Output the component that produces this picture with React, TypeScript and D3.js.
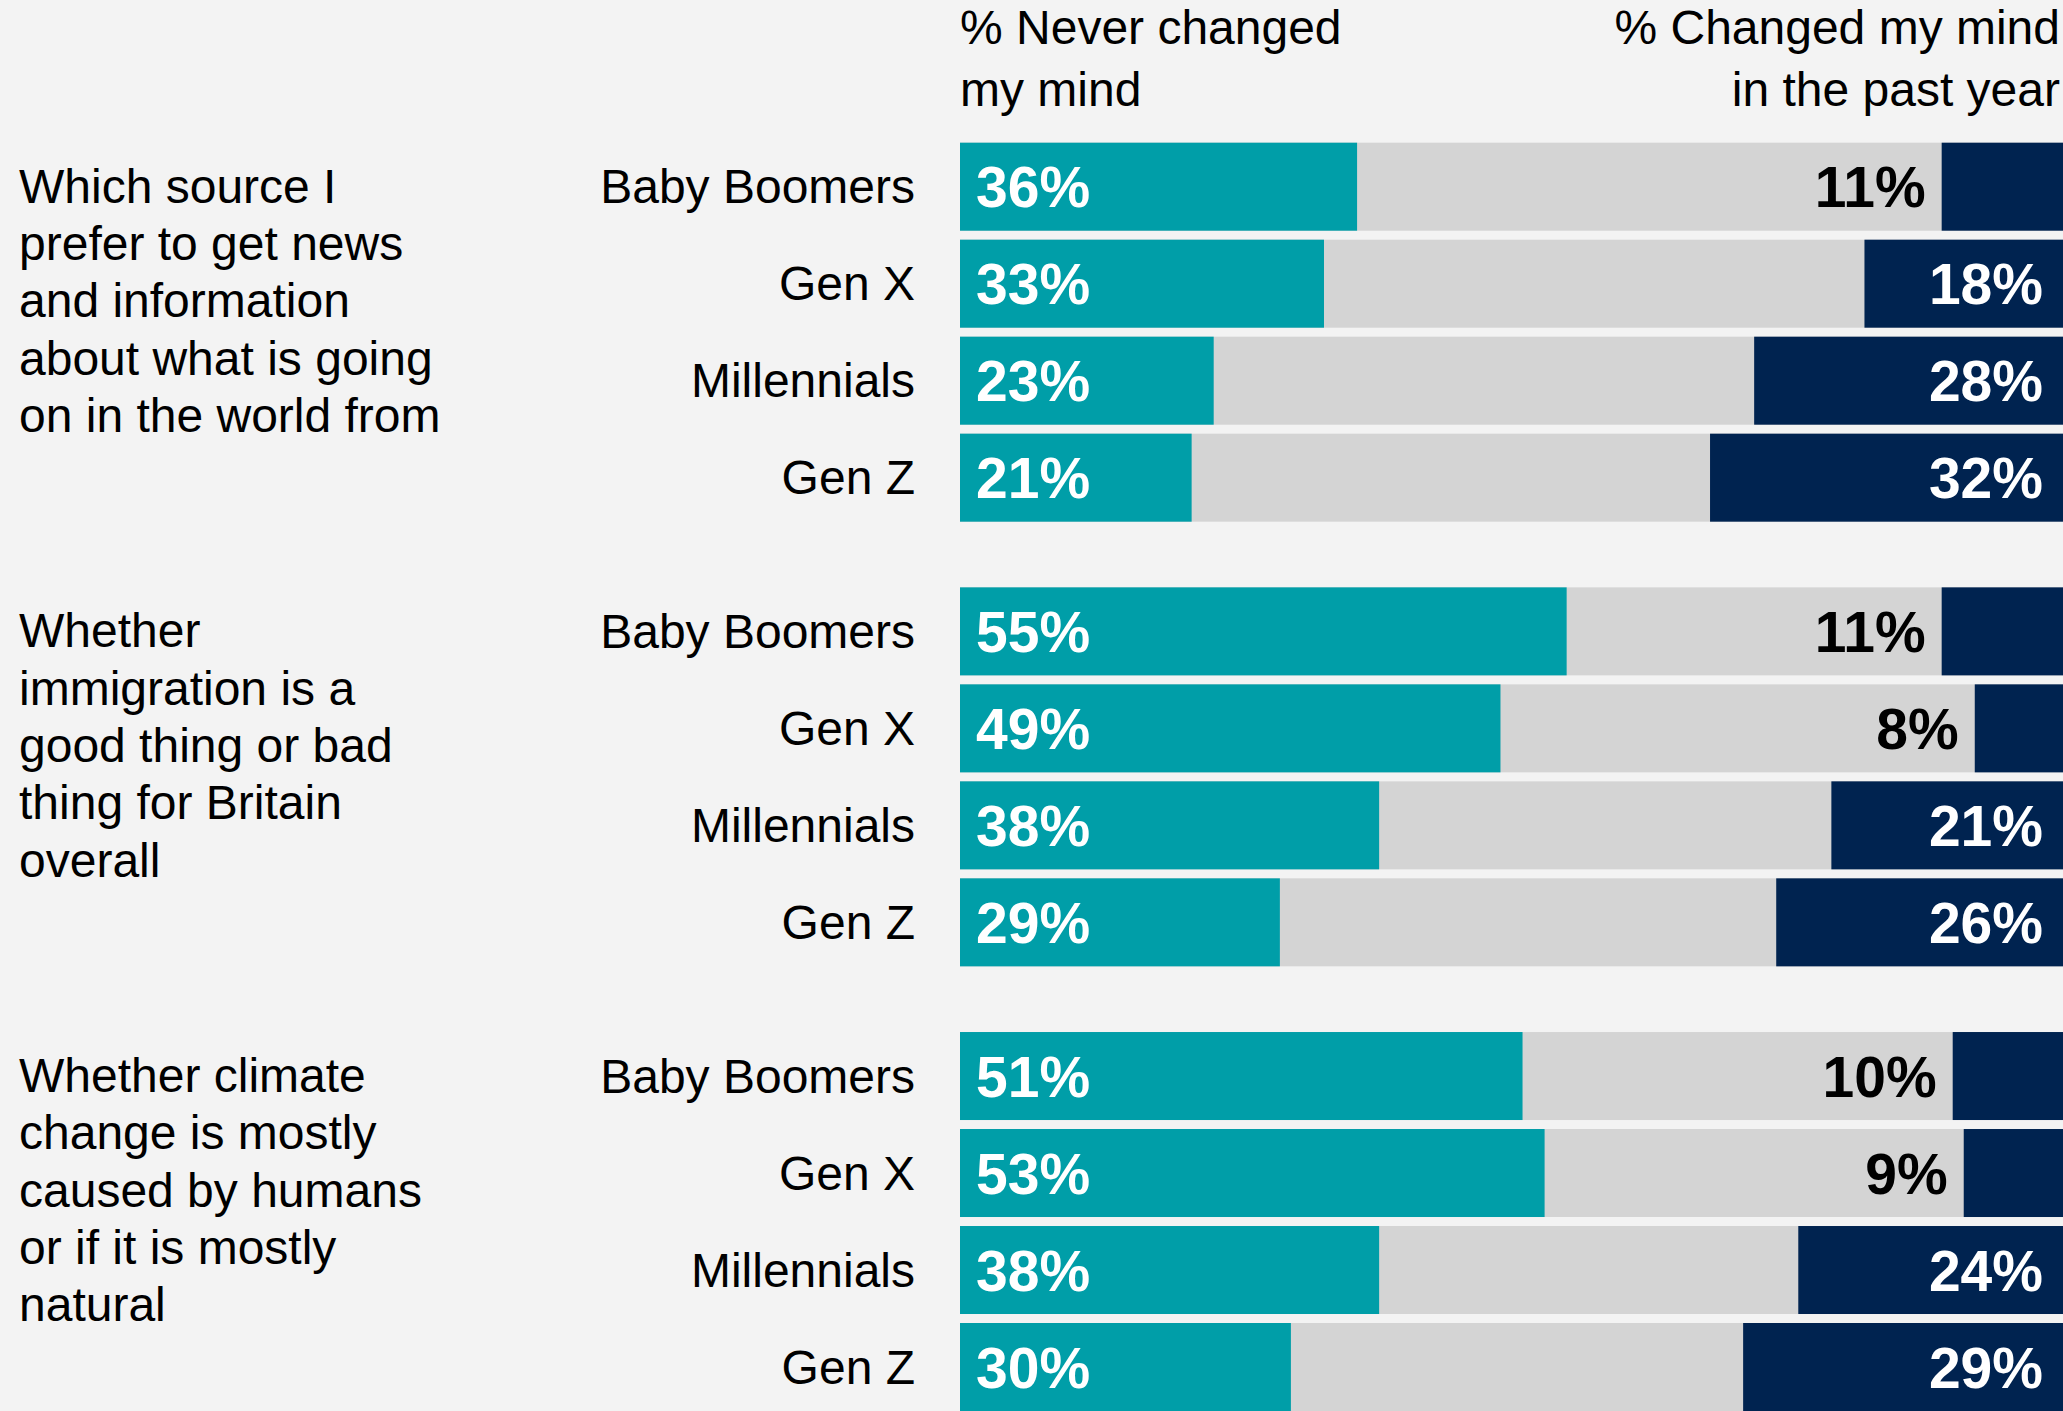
import React from "react";
import * as d3 from "d3";

const questions: string[][] = [
  ["Which source I", "prefer to get news", "and information", "about what is going", "on in the world from"],
  ["Whether", "immigration is a", "good thing or bad", "thing for Britain", "overall"],
  ["Whether climate", "change is mostly", "caused by humans", "or if it is mostly", "natural"],
];
const generations = ["Baby Boomers", "Gen X", "Millennials", "Gen Z"];
const neverChanged: number[][] = [
  [36, 33, 23, 21],
  [55, 49, 38, 29],
  [51, 53, 38, 30],
];
const changedPastYear: number[][] = [
  [11, 18, 28, 32],
  [11, 8, 21, 26],
  [10, 9, 24, 29],
];
const headerLeft = ["% Never changed", "my mind"];
const headerRight = ["% Changed my mind", "in the past year"];

const W = 2063;
const H = 1411;
const TEAL = "#009ea8";
const NAVY = "#002350";
const GRAY = "#d4d4d4";
const BG = "#f3f3f3";
const FONT = "'Liberation Sans', Arial, Helvetica, sans-serif";

export default function App() {
  const x = d3.scaleLinear().domain([0, 100]).range([960, 2063]);
  const gScale = d3
    .scaleBand<number>()
    .domain(questions.map((_, i) => i))
    .range([142.7, 1411])
    .paddingInner(65.7 / 444.7);
  const rScale = d3
    .scaleBand<string>()
    .domain(generations)
    .range([0, gScale.bandwidth()])
    .paddingInner(9 / 97);
  const bh = rScale.bandwidth();

  return (
    <svg
      width={W}
      height={H}
      style={{ position: "absolute", left: 0, top: 0, display: "block" }}
      fontFamily={FONT}
    >
      <rect x={0} y={0} width={W} height={H} fill={BG} />
      {headerLeft.map((t, i) => (
        <text key={"hl" + i} x={x(0)} y={44 + i * 62} fontSize={48} fill="#000">
          {t}
        </text>
      ))}
      {headerRight.map((t, i) => (
        <text key={"hr" + i} x={2060} y={44 + i * 62} fontSize={48} fill="#000" textAnchor="end">
          {t}
        </text>
      ))}
      {questions.map((lines, g) => {
        const gy = gScale(g)!;
        return (
          <g key={"g" + g}>
            {lines.map((ln, li) => (
              <text key={li} x={19} y={gy + 60 + li * 57.3} fontSize={48} fill="#000">
                {ln}
              </text>
            ))}
            {generations.map((gen, r) => {
              const y0 = gy + rScale(gen)!;
              const cy = y0 + bh / 2;
              const nv = neverChanged[g][r];
              const ch = changedPastYear[g][r];
              const inside = ch >= 15;
              return (
                <g key={gen}>
                  <text x={915} y={cy + 16.5} fontSize={48} textAnchor="end" fill="#000">
                    {gen}
                  </text>
                  <rect x={x(0)} y={y0} width={x(100) - x(0)} height={bh} fill={GRAY} />
                  <rect x={x(0)} y={y0} width={x(nv) - x(0)} height={bh} fill={TEAL} />
                  <rect x={x(100 - ch)} y={y0} width={x(100) - x(100 - ch)} height={bh} fill={NAVY} />
                  <text
                    x={x(0) + 16}
                    y={cy + 20.5}
                    fontSize={57}
                    fontWeight="bold"
                    fill="#fff"
                  >
                    {nv}%
                  </text>
                  <text
                    x={inside ? x(100) - 20 : x(100 - ch) - 16}
                    y={cy + 20.5}
                    fontSize={57}
                    fontWeight="bold"
                    textAnchor="end"
                    fill={inside ? "#fff" : "#000"}
                  >
                    {ch}%
                  </text>
                </g>
              );
            })}
          </g>
        );
      })}
    </svg>
  );
}
